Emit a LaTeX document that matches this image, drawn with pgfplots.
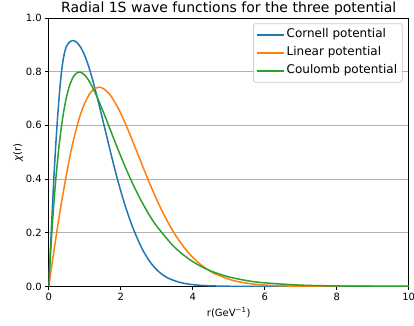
\documentclass[border=0pt]{standalone}
\usepackage{fontspec}
\setmainfont{DejaVu Sans}
\usepackage{pgfplots}
\pgfplotsset{compat=1.18}
\definecolor{cornellc}{HTML}{1F77B4}
\definecolor{linearc}{HTML}{FF7F0E}
\definecolor{coulombc}{HTML}{2CA02C}
\definecolor{gridc}{HTML}{B0B0B0}
\definecolor{legc}{HTML}{CCCCCC}
\begin{document}
\begin{tikzpicture}
\begin{axis}[
  at={(0,0)}, anchor=south west,
  scale only axis, width=360pt, height=268.5pt,
  xmin=0, xmax=10, ymin=0, ymax=1,
  xtick={0,2,4,6,8,10}, ytick={0,0.2,0.4,0.6,0.8,1.0},
  ymajorgrids, grid style={draw=gridc, line width=0.8pt},
  tick align=outside, major tick length=3.5pt,
  tick style={black, line width=0.8pt},
  axis line style={line width=0.8pt},
  xtick pos=bottom, ytick pos=left,
  /pgf/number format/assume math mode=true,
  ticklabel style={font=\fontsize{10}{12}\selectfont},
  yticklabel style={/pgf/number format/.cd, fixed, fixed zerofill, precision=1},
  every axis title shift=0pt,
  title={Radial 1S wave functions for the three potential},
  title style={font=\fontsize{14}{16}\selectfont, at={(axis description cs:0.5,1)}, anchor=base, yshift=5pt, inner sep=0pt},
  xlabel={r(GeV\textsuperscript{−1})},
  xlabel style={font=\fontsize{10}{12}\selectfont, at={(axis description cs:0.5,0)}, anchor=north, yshift=-21pt, inner sep=0pt},
  ylabel={{\itshape χ}(r)},
  ylabel style={font=\fontsize{10}{12}\selectfont, at={(axis description cs:-0.085,0.5)}, anchor=center, inner sep=0pt},
  legend cell align=left,
  legend image code/.code={\draw[#1] plot coordinates {(0pt,0pt) (26.7pt,0pt)};},
  legend style={at={(axis description cs:0.983,0.98)}, anchor=north east,
    draw=legc, line width=0.8pt, rounded corners=2pt, fill=white, fill opacity=0.8, text opacity=1,
    font=\fontsize{12}{14}\selectfont, inner xsep=3pt, inner ysep=3.25pt, row sep=2pt,
    nodes={inner sep=2pt, text height=9pt, text depth=3pt}},
]
\addplot[color=cornellc, line width=1.5pt, smooth] coordinates {
(0,0) (0.05,0.143) (0.1,0.285) (0.15,0.42) (0.2,0.535) (0.25,0.635) (0.3,0.722) (0.35,0.792) (0.4,0.843) (0.45,0.876) (0.5,0.895) (0.55,0.906) (0.6,0.912) (0.65,0.915) (0.7,0.915) (0.75,0.912) (0.8,0.906) (0.9,0.888) (1.0,0.860) (1.1,0.823) (1.2,0.779) (1.3,0.729) (1.4,0.676) (1.5,0.621) (1.6,0.565) (1.7,0.510) (1.8,0.456) (1.9,0.404) (2.0,0.356) (2.1,0.311) (2.2,0.270) (2.3,0.232) (2.4,0.198) (2.5,0.167) (2.6,0.139) (2.7,0.115) (2.8,0.094) (2.9,0.077) (3.0,0.062) (3.1,0.050) (3.2,0.040) (3.3,0.032) (3.4,0.026) (3.6,0.0165) (3.8,0.0105) (4.0,0.0066) (4.2,0.0042) (4.5,0.0020) (5.0,0.0006) (5.5,0.0002) (6,0.0001) (7,0) (8,0) (10,0)
};
\addlegendentry{Cornell potential}
\addplot[color=linearc, line width=1.5pt, smooth] coordinates {
(0,0) (0.0933,0.0853) (0.2258,0.2035) (0.3583,0.3150) (0.6233,0.5063) (0.8883,0.6431) (1.1533,0.7204) (1.4183,0.7419) (1.6833,0.7172) (1.9483,0.6590) (2.2133,0.5800) (2.4783,0.4918) (2.7433,0.4033) (3.0083,0.3209) (3.2733,0.2484) (3.5383,0.1874) (3.8033,0.1380) (4.0683,0.0994) (4.3333,0.0701) (4.5983,0.0484) (5.1283,0.0218) (5.6583,0.0091) (6.1883,0.0036) (6.7183,0.0013) (7.7783,0.00015) (10,0)
};
\addlegendentry{Linear potential}
\addplot[color=coulombc, line width=1.5pt, smooth] coordinates {
(0,0) (0.05,0.1203) (0.1,0.2269) (0.15,0.3209) (0.2,0.4034) (0.3,0.5380) (0.4,0.6377) (0.5,0.7086) (0.6,0.7559) (0.7,0.7841) (0.8,0.7966) (0.85,0.7980) (0.9,0.7967) (1.0,0.7869) (1.1,0.7696) (1.2,0.7464) (1.3,0.7189) (1.4,0.6882) (1.6,0.6217) (1.8,0.5527) (2.0,0.4854) (2.25,0.4069) (2.5,0.3368) (2.75,0.2760) (3.0,0.2245) (3.5,0.1454) (4.0,0.0923) (4.5,0.0577) (5.0,0.0356) (5.5,0.0217) (6.0,0.0132) (7.0,0.0047) (8.0,0.0017) (9.0,0.0006) (10.0,0.0002)
};
\addlegendentry{Coulomb potential}
\end{axis}
\pgfresetboundingbox
\useasboundingbox (-48.7pt,-38.6pt) rectangle (365.3pt,286.4pt);
\end{tikzpicture}
\end{document}
